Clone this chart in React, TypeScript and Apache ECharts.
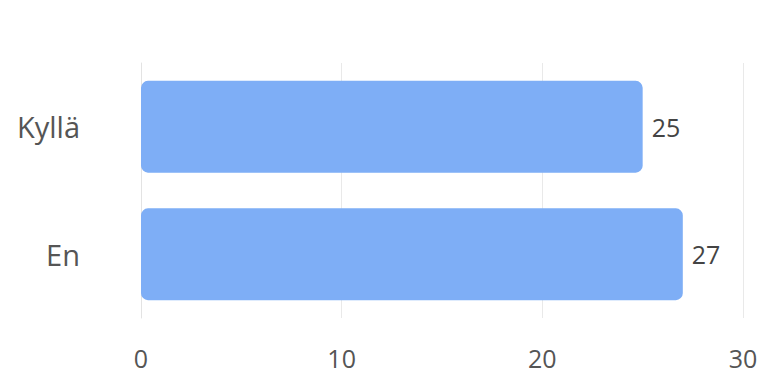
import React, { useEffect, useRef } from "react";
import * as echarts from "echarts";

const categories: string[] = ["Kyllä", "En"];
const values: number[] = [25, 27];
const xMin = 0;
const xMax = 30;
const xInterval = 10;

export default function App() {
  const ref = useRef<HTMLDivElement>(null);
  useEffect(() => {
    if (!ref.current) return;
    const chart = echarts.init(ref.current, undefined, { renderer: "svg" });
    const font = "'Open Sans', 'Noto Sans', sans-serif";
    chart.setOption({
      animation: false,
      grid: { left: 141, right: 20, top: 63, bottom: 58, containLabel: false },
      xAxis: {
        type: "value",
        min: xMin,
        max: xMax,
        interval: xInterval,
        axisLine: { show: false },
        axisTick: { show: false },
        splitLine: { show: true, lineStyle: { color: "#e9e9e9", width: 1 } },
        axisLabel: { color: "#555", fontSize: 25, fontFamily: font, margin: 27 },
      },
      yAxis: {
        type: "category",
        data: categories,
        inverse: true,
        axisLine: { show: true, lineStyle: { color: "#e3e3e3", width: 1 } },
        axisTick: { show: false },
        axisLabel: { color: "#555", fontSize: 29, fontFamily: font, margin: 61 },
      },
      series: [
        {
          type: "bar",
          data: values,
          barCategoryGap: "28%",
          itemStyle: { color: "#7eaef6", borderRadius: 7 },
          label: {
            show: true,
            position: "right",
            distance: 9,
            color: "#444",
            fontSize: 25,
            fontFamily: font,
          },
        },
      ],
    });
    return () => chart.dispose();
  }, []);
  return <div ref={ref} style={{ width: 763, height: 376, position: "absolute", left: 0, top: 0, background: "#fff" }} />;
}
